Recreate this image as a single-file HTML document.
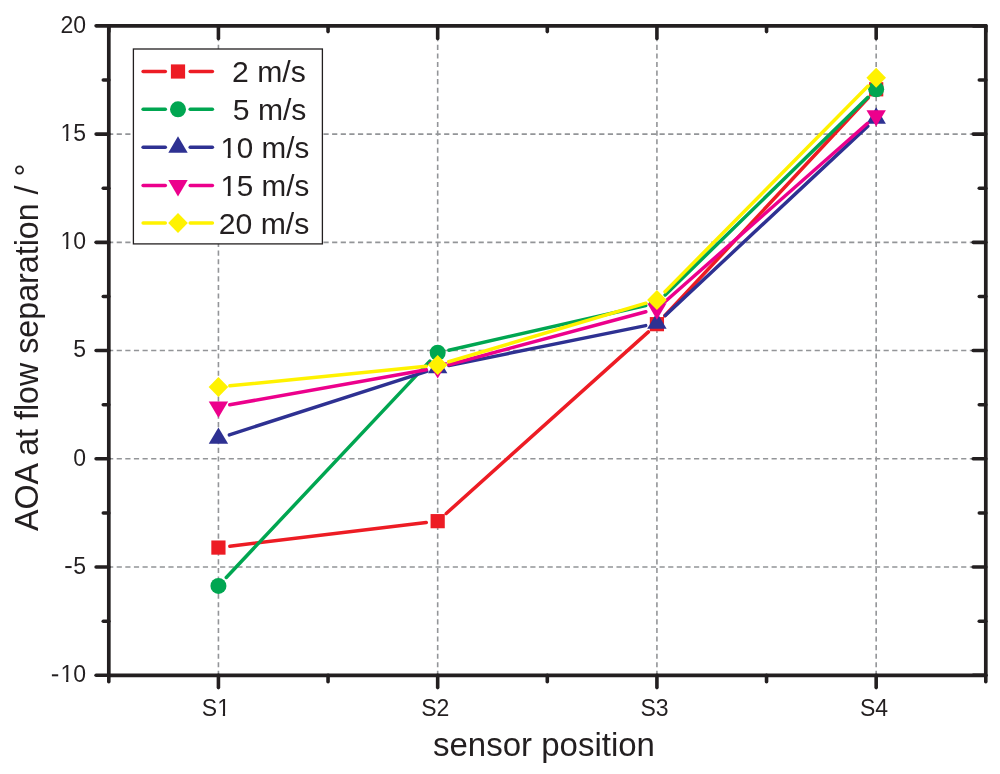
<!DOCTYPE html><html><head><meta charset="utf-8"><style>html,body{margin:0;padding:0;background:#fff;}svg{display:block;will-change:transform;}text{font-family:"Liberation Sans",sans-serif;fill:#231F20;}</style></head><body>
<svg width="1000" height="774" viewBox="0 0 1000 774">
<rect width="1000" height="774" fill="#fff"/>
<g stroke="#939598" stroke-width="1.6" fill="none">
<line x1="218.43" y1="27.65" x2="218.43" y2="675.30" stroke-dasharray="5.1 3.475"/>
<line x1="437.68" y1="27.65" x2="437.68" y2="675.30" stroke-dasharray="5.1 3.475"/>
<line x1="656.92" y1="27.65" x2="656.92" y2="675.30" stroke-dasharray="5.1 3.475"/>
<line x1="876.17" y1="27.65" x2="876.17" y2="675.30" stroke-dasharray="5.1 3.475"/>
<line x1="108.06" y1="134.09" x2="985.80" y2="134.09" stroke-dasharray="5.2 3.417"/>
<line x1="108.06" y1="242.33" x2="985.80" y2="242.33" stroke-dasharray="5.2 3.417"/>
<line x1="108.06" y1="350.57" x2="985.80" y2="350.57" stroke-dasharray="5.2 3.417"/>
<line x1="108.06" y1="458.82" x2="985.80" y2="458.82" stroke-dasharray="5.2 3.417"/>
<line x1="108.06" y1="567.06" x2="985.80" y2="567.06" stroke-dasharray="5.2 3.417"/>
</g>
<rect x="133.4" y="49.0" width="189.00" height="194.90" fill="#fff" stroke="#231F20" stroke-width="1.3"/>
<g stroke="#ED1C24" stroke-width="3.5" stroke-linecap="round"><line x1="143.1" y1="71.5" x2="165.3" y2="71.5"/><line x1="190.2" y1="71.5" x2="212.4" y2="71.5"/></g>
<rect x="170.90" y="64.40" width="14.2" height="14.2" fill="#ED1C24"/>
<text x="232.0" y="82.10" font-size="29.4" textLength="73.8" lengthAdjust="spacingAndGlyphs">2 m/s</text>
<g stroke="#00A651" stroke-width="3.5" stroke-linecap="round"><line x1="143.1" y1="109.3" x2="165.3" y2="109.3"/><line x1="190.2" y1="109.3" x2="212.4" y2="109.3"/></g>
<circle cx="178.00" cy="109.30" r="8.0" fill="#00A651"/>
<text x="232.8" y="119.90" font-size="29.4" textLength="73.6" lengthAdjust="spacingAndGlyphs">5 m/s</text>
<g stroke="#2E3192" stroke-width="3.5" stroke-linecap="round"><line x1="143.1" y1="147.3" x2="165.3" y2="147.3"/><line x1="190.2" y1="147.3" x2="212.4" y2="147.3"/></g>
<path d="M178.00 136.37L187.70 152.77L168.30 152.77Z" fill="#2E3192"/>
<text x="220.4" y="157.90" font-size="29.4" textLength="88.8" lengthAdjust="spacingAndGlyphs">10 m/s</text>
<g stroke="#EC008C" stroke-width="3.5" stroke-linecap="round"><line x1="143.1" y1="185.5" x2="165.3" y2="185.5"/><line x1="190.2" y1="185.5" x2="212.4" y2="185.5"/></g>
<path d="M178.00 196.43L187.70 180.03L168.30 180.03Z" fill="#EC008C"/>
<text x="220.4" y="196.10" font-size="29.4" textLength="88.8" lengthAdjust="spacingAndGlyphs">15 m/s</text>
<g stroke="#FFF200" stroke-width="3.5" stroke-linecap="round"><line x1="143.1" y1="222.9" x2="165.3" y2="222.9"/><line x1="190.2" y1="222.9" x2="212.4" y2="222.9"/></g>
<path d="M178.00 212.90L187.80 222.90L178.00 232.90L168.20 222.90Z" fill="#FFF200"/>
<text x="218.7" y="233.50" font-size="29.4" textLength="90.6" lengthAdjust="spacingAndGlyphs">20 m/s</text>
<g stroke="#ED1C24" stroke-width="3.5" stroke-linecap="round">
<line x1="229.84" y1="546.20" x2="426.26" y2="522.54"/>
<line x1="446.23" y1="513.48" x2="648.37" y2="331.85"/>
<line x1="664.77" y1="315.76" x2="868.33" y2="97.69"/>
</g>
<rect x="211.33" y="540.47" width="14.2" height="14.2" fill="#ED1C24"/>
<rect x="430.57" y="514.06" width="14.2" height="14.2" fill="#ED1C24"/>
<rect x="649.82" y="317.06" width="14.2" height="14.2" fill="#ED1C24"/>
<rect x="869.07" y="82.18" width="14.2" height="14.2" fill="#ED1C24"/>
<g stroke="#00A651" stroke-width="3.5" stroke-linecap="round">
<line x1="226.30" y1="577.51" x2="429.80" y2="361.12"/>
<line x1="448.89" y1="350.19" x2="645.71" y2="305.50"/>
<line x1="665.16" y1="294.92" x2="867.94" y2="97.31"/>
</g>
<circle cx="218.43" cy="585.89" r="8.0" fill="#00A651"/>
<circle cx="437.68" cy="352.74" r="8.0" fill="#00A651"/>
<circle cx="656.92" cy="302.95" r="8.0" fill="#00A651"/>
<circle cx="876.17" cy="89.28" r="8.0" fill="#00A651"/>
<g stroke="#2E3192" stroke-width="3.5" stroke-linecap="round">
<line x1="229.37" y1="434.84" x2="426.73" y2="371.41"/>
<line x1="448.94" y1="365.60" x2="645.66" y2="325.59"/>
<line x1="665.32" y1="315.44" x2="867.78" y2="126.14"/>
</g>
<path d="M218.43 427.43L228.12 443.83L208.73 443.83Z" fill="#2E3192"/>
<path d="M437.68 356.96L447.38 373.36L427.98 373.36Z" fill="#2E3192"/>
<path d="M656.92 312.36L666.62 328.76L647.22 328.76Z" fill="#2E3192"/>
<path d="M876.17 107.36L885.88 123.76L866.47 123.76Z" fill="#2E3192"/>
<g stroke="#EC008C" stroke-width="3.5" stroke-linecap="round">
<line x1="229.75" y1="404.84" x2="426.35" y2="369.70"/>
<line x1="448.78" y1="364.69" x2="645.82" y2="311.78"/>
<line x1="665.56" y1="301.19" x2="867.54" y2="123.29"/>
</g>
<path d="M218.43 417.79L228.12 401.39L208.73 401.39Z" fill="#EC008C"/>
<path d="M437.68 378.61L447.38 362.21L427.98 362.21Z" fill="#EC008C"/>
<path d="M656.92 319.73L666.62 303.33L647.22 303.33Z" fill="#EC008C"/>
<path d="M876.17 126.62L885.88 110.22L866.47 110.22Z" fill="#EC008C"/>
<g stroke="#FFF200" stroke-width="3.5" stroke-linecap="round">
<line x1="229.87" y1="385.80" x2="426.23" y2="366.22"/>
<line x1="448.70" y1="361.80" x2="645.90" y2="303.19"/>
<line x1="665.00" y1="291.73" x2="868.10" y2="85.99"/>
</g>
<path d="M218.43 376.94L228.23 386.94L218.43 396.94L208.62 386.94Z" fill="#FFF200"/>
<path d="M437.68 355.08L447.48 365.08L437.68 375.08L427.88 365.08Z" fill="#FFF200"/>
<path d="M656.92 289.92L666.72 299.92L656.92 309.92L647.12 299.92Z" fill="#FFF200"/>
<path d="M876.17 67.81L885.97 77.81L876.17 87.81L866.38 77.81Z" fill="#FFF200"/>
<rect x="108.8" y="25.85" width="877.00" height="649.45" fill="none" stroke="#231F20" stroke-width="3.7" stroke-linejoin="round"/>
<g stroke="#231F20" stroke-width="3.6" stroke-linecap="round">
<line x1="108.8" y1="675.30" x2="96.1" y2="675.30"/>
<line x1="985.8" y1="675.30" x2="973.2" y2="675.30"/>
<line x1="108.8" y1="567.06" x2="96.1" y2="567.06"/>
<line x1="985.8" y1="567.06" x2="973.2" y2="567.06"/>
<line x1="108.8" y1="458.82" x2="96.1" y2="458.82"/>
<line x1="985.8" y1="458.82" x2="973.2" y2="458.82"/>
<line x1="108.8" y1="350.57" x2="96.1" y2="350.57"/>
<line x1="985.8" y1="350.57" x2="973.2" y2="350.57"/>
<line x1="108.8" y1="242.33" x2="96.1" y2="242.33"/>
<line x1="985.8" y1="242.33" x2="973.2" y2="242.33"/>
<line x1="108.8" y1="134.09" x2="96.1" y2="134.09"/>
<line x1="985.8" y1="134.09" x2="973.2" y2="134.09"/>
<line x1="108.8" y1="25.85" x2="96.1" y2="25.85"/>
<line x1="985.8" y1="25.85" x2="973.2" y2="25.85"/>
<line x1="108.8" y1="621.18" x2="103.3" y2="621.18"/>
<line x1="985.8" y1="621.18" x2="979.3" y2="621.18"/>
<line x1="108.8" y1="512.94" x2="103.3" y2="512.94"/>
<line x1="985.8" y1="512.94" x2="979.3" y2="512.94"/>
<line x1="108.8" y1="404.70" x2="103.3" y2="404.70"/>
<line x1="985.8" y1="404.70" x2="979.3" y2="404.70"/>
<line x1="108.8" y1="296.45" x2="103.3" y2="296.45"/>
<line x1="985.8" y1="296.45" x2="979.3" y2="296.45"/>
<line x1="108.8" y1="188.21" x2="103.3" y2="188.21"/>
<line x1="985.8" y1="188.21" x2="979.3" y2="188.21"/>
<line x1="108.8" y1="79.97" x2="103.3" y2="79.97"/>
<line x1="985.8" y1="79.97" x2="979.3" y2="79.97"/>
<line x1="218.43" y1="675.3" x2="218.43" y2="687.6"/>
<line x1="218.43" y1="25.85" x2="218.43" y2="38.5"/>
<line x1="437.68" y1="675.3" x2="437.68" y2="687.6"/>
<line x1="437.68" y1="25.85" x2="437.68" y2="38.5"/>
<line x1="656.92" y1="675.3" x2="656.92" y2="687.6"/>
<line x1="656.92" y1="25.85" x2="656.92" y2="38.5"/>
<line x1="876.17" y1="675.3" x2="876.17" y2="687.6"/>
<line x1="876.17" y1="25.85" x2="876.17" y2="38.5"/>
<line x1="108.80" y1="675.3" x2="108.80" y2="681.7"/>
<line x1="108.80" y1="25.85" x2="108.80" y2="31.6"/>
<line x1="328.05" y1="675.3" x2="328.05" y2="681.7"/>
<line x1="328.05" y1="25.85" x2="328.05" y2="31.6"/>
<line x1="547.30" y1="675.3" x2="547.30" y2="681.7"/>
<line x1="547.30" y1="25.85" x2="547.30" y2="31.6"/>
<line x1="766.55" y1="675.3" x2="766.55" y2="681.7"/>
<line x1="766.55" y1="25.85" x2="766.55" y2="31.6"/>
<line x1="985.80" y1="675.3" x2="985.80" y2="681.7"/>
<line x1="985.80" y1="25.85" x2="985.80" y2="31.6"/>
</g>
<text x="86" y="682.20" font-size="23" text-anchor="end">10</text>
<text x="86" y="573.96" font-size="23" text-anchor="end">5</text>
<text x="86" y="465.72" font-size="23" text-anchor="end">0</text>
<text x="86" y="357.47" font-size="23" text-anchor="end">5</text>
<text x="86" y="249.23" font-size="23" text-anchor="end">10</text>
<text x="86" y="140.99" font-size="23" text-anchor="end">15</text>
<text x="86" y="32.75" font-size="23" text-anchor="end">20</text>
<rect x="51.9" y="674.30" width="6.3" height="2.0" fill="#231F20"/>
<rect x="65.3" y="566.06" width="6.3" height="2.0" fill="#231F20"/>
<text x="215.9" y="715.6" font-size="23" text-anchor="middle">S1</text>
<text x="435.2" y="715.6" font-size="23" text-anchor="middle">S2</text>
<text x="654.5" y="715.6" font-size="23" text-anchor="middle">S3</text>
<text x="874.0" y="715.6" font-size="23" text-anchor="middle">S4</text>
<text x="544" y="755.8" font-size="33" text-anchor="middle">sensor position</text>
<text transform="translate(38.2 531) rotate(-90)" font-size="33" textLength="367.4" lengthAdjust="spacingAndGlyphs">AOA at flow separation / °</text>
<rect x="221.77" y="154.60" width="5.93" height="4.80" fill="#fff"/>
<rect x="230.61" y="154.60" width="5.84" height="4.80" fill="#fff"/>
<rect x="221.77" y="192.80" width="5.93" height="4.80" fill="#fff"/>
<rect x="230.61" y="192.80" width="5.84" height="4.80" fill="#fff"/>
<rect x="61.47" y="679.62" width="4.61" height="4.08" fill="#fff"/>
<rect x="68.34" y="679.62" width="4.54" height="4.08" fill="#fff"/>
<rect x="61.47" y="246.65" width="4.61" height="4.08" fill="#fff"/>
<rect x="68.34" y="246.65" width="4.54" height="4.08" fill="#fff"/>
<rect x="61.47" y="138.41" width="4.61" height="4.08" fill="#fff"/>
<rect x="68.34" y="138.41" width="4.54" height="4.08" fill="#fff"/>
<rect x="218.23" y="713.02" width="4.61" height="4.08" fill="#fff"/>
<rect x="225.10" y="713.02" width="4.54" height="4.08" fill="#fff"/>
</svg></body></html>
